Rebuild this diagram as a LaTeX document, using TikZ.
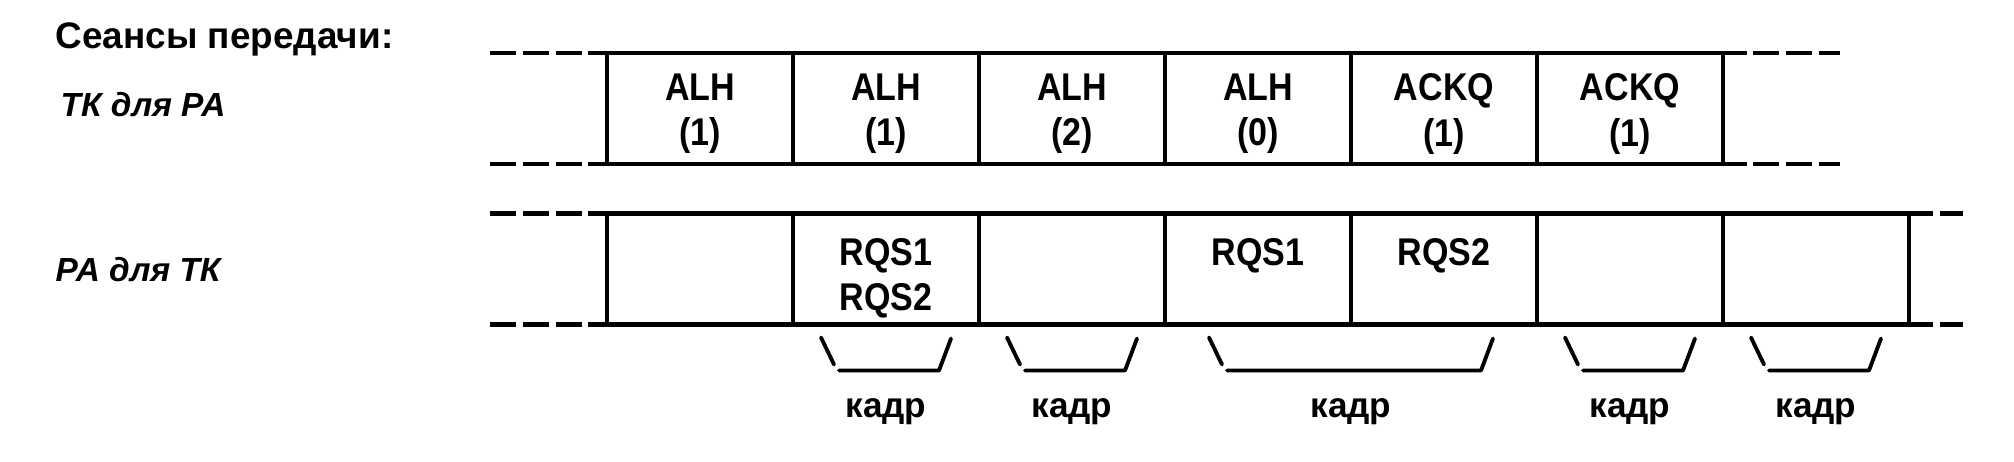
\documentclass[tikz,border=0pt]{standalone}
\usepackage{fontspec}
\usepackage{tikz}
\usetikzlibrary{calc,positioning}
\setmainfont{Liberation Sans}
\newfontfamily\cellfont{Liberation Sans}[FakeStretch=0.88]

% скобка "кадр" под ячейками: левая точка, правая точка, отступ
\newcommand{\kadrbrace}[3]{%
  \draw[brace] ($(#1)+(#3,-0.13)$) -- ++(0.13,-0.27);
  \draw[brace] ($(#1)+(#3+0.18,-0.46)$) -- ($(#2)+(-#3-0.12,-0.46)$) -- ++(0.12,0.32);
}

\begin{document}
\begin{tikzpicture}[
    cell/.style={draw,line width=1.2pt,outer sep=0pt,inner sep=0pt,
                 minimum width=1.86cm,minimum height=1.11cm},
    celltxt/.style={inner sep=0pt,align=center,
                    font=\cellfont\bfseries\fontsize{11}{13}\selectfont},
    rowlbl/.style={anchor=base west,inner sep=0pt,
                   font=\bfseries\itshape\fontsize{9.5}{11}\selectfont},
    kadrlbl/.style={anchor=base,inner sep=0pt,
                    font=\bfseries\fontsize{10}{12}\selectfont},
    tail/.style={line width=1.2pt},
    dashtail/.style={line width=1.2pt,dash pattern=on 0.26cm off 0.07cm},
    brace/.style={line width=1.1pt,line cap=round,line join=round}]
  \useasboundingbox (0,0) rectangle (20.14,4.62);

  % подписи слева
  \node[anchor=base west,inner sep=0pt,font=\bfseries\fontsize{10.5}{12}\selectfont]
    (title) at (0.55,4.13) {Сеансы передачи:};
  \node[rowlbl] (lab1) at (0.60,3.45) {ТК для РА};
  \node[rowlbl] (lab2) at (0.55,1.80) {РА для ТК};

  % верхняя строка: ТК для РА
  \node[cell] (t1) at (7.00,3.535) {};
  \node[cell,right=0pt of t1] (t2) {};
  \node[cell,right=0pt of t2] (t3) {};
  \node[cell,right=0pt of t3] (t4) {};
  \node[cell,right=0pt of t4] (t5) {};
  \node[cell,right=0pt of t5] (t6) {};

  \node[celltxt,below=0.20cm of t1.north] (a1) {ALH\\(1)};
  \node[celltxt,below=0.20cm of t2.north] (a2) {ALH\\(1)};
  \node[celltxt,below=0.20cm of t3.north] (a3) {ALH\\(2)};
  \node[celltxt,below=0.20cm of t4.north] (a4) {ALH\\(0)};
  \node[celltxt,below=0.20cm of t5.north] (a5) {ACKQ\\(1)};
  \node[celltxt,below=0.20cm of t6.north] (a6) {ACKQ\\(1)};

  % нижняя строка: РА для ТК
  \node[cell] (b1) at (7.00,1.93) {};
  \node[cell,right=0pt of b1] (b2) {};
  \node[cell,right=0pt of b2] (b3) {};
  \node[cell,right=0pt of b3] (b4) {};
  \node[cell,right=0pt of b4] (b5) {};
  \node[cell,right=0pt of b5] (b6) {};
  \node[cell,right=0pt of b6] (b7) {};

  \node[celltxt,below=0.24cm of b2.north] (q2) {RQS1\\RQS2};
  \node[celltxt,below=0.24cm of b4.north] (q4) {RQS1};
  \node[celltxt,below=0.24cm of b5.north] (q5) {RQS2};

  % продолжения линий
  \draw[tail] (t1.north west) -- ++(-0.19,0);
  \draw[dashtail] ($(t1.north west)+(-0.25,0)$) -- ++(-0.92,0);
  \draw[tail] (t1.south west) -- ++(-0.19,0);
  \draw[dashtail] ($(t1.south west)+(-0.25,0)$) -- ++(-0.92,0);
  \draw[tail] (t6.north east) -- ++(0.24,0);
  \draw[dashtail] ($(t6.north east)+(0.30,0)$) -- ++(0.87,0);
  \draw[tail] (t6.south east) -- ++(0.24,0);
  \draw[dashtail] ($(t6.south east)+(0.30,0)$) -- ++(0.87,0);

  \draw[tail] (b1.north west) -- ++(-0.19,0);
  \draw[dashtail] ($(b1.north west)+(-0.25,0)$) -- ++(-0.92,0);
  \draw[tail] (b1.south west) -- ++(-0.19,0);
  \draw[dashtail] ($(b1.south west)+(-0.25,0)$) -- ++(-0.92,0);
  \draw[tail] (b7.north east) -- ++(0.24,0);
  \draw[dashtail] ($(b7.north east)+(0.31,0)$) -- ++(0.23,0);
  \draw[tail] (b7.south east) -- ++(0.24,0);
  \draw[dashtail] ($(b7.south east)+(0.31,0)$) -- ++(0.23,0);

  % кадры
  \kadrbrace{b2.south west}{b2.south east}{0.28}
  \kadrbrace{b3.south west}{b3.south east}{0.28}
  \kadrbrace{b4.south west}{b5.south east}{0.44}
  \kadrbrace{b6.south west}{b6.south east}{0.28}
  \kadrbrace{b7.south west}{b7.south east}{0.28}

  \node[kadrlbl] (k1) at ($(b2.south)+(0,-0.93)$) {кадр};
  \node[kadrlbl] (k2) at ($(b3.south)+(0,-0.93)$) {кадр};
  \node[kadrlbl] (k3) at ($(b4.south east)+(0,-0.93)$) {кадр};
  \node[kadrlbl] (k4) at ($(b6.south)+(0,-0.93)$) {кадр};
  \node[kadrlbl] (k5) at ($(b7.south)+(0,-0.93)$) {кадр};
\end{tikzpicture}
\end{document}
